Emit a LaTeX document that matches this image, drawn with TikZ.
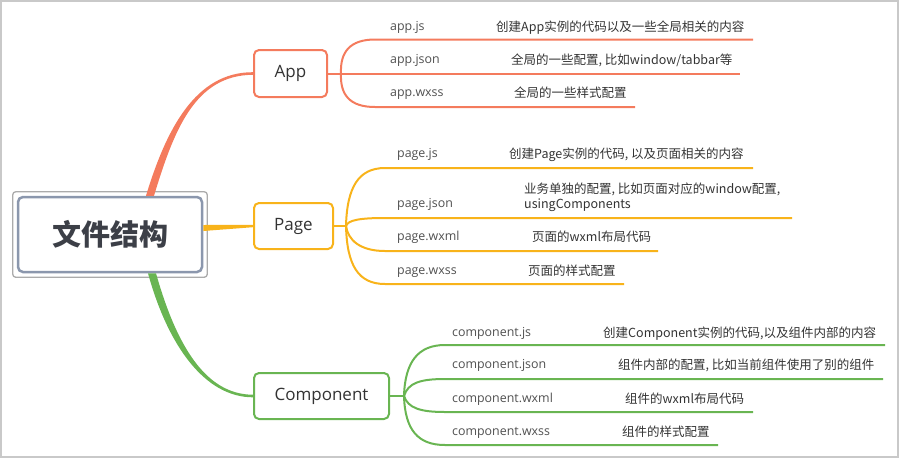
\documentclass[tikz,border=0pt]{standalone}
\usepackage{fontspec}
\setmainfont{Open Sans}
\newfontfamily\cjk{Noto Sans CJK SC}
\newfontfamily\lat{Open Sans}
\usetikzlibrary{calc}
\definecolor{appc}{HTML}{F47B5D}
\definecolor{pagec}{HTML}{F8B31A}
\definecolor{compc}{HTML}{69B552}
\definecolor{rootb}{HTML}{8B97AD}
\definecolor{rootouter}{HTML}{ABABAB}
\definecolor{framec}{HTML}{C9C9C9}
\definecolor{txt}{HTML}{333333}
\definecolor{lblc}{HTML}{505050}
\definecolor{roottxt}{HTML}{3C3F47}
\begin{document}
\begin{tikzpicture}[x=1pt,y=-1pt,
  box/.style={draw, line width=2pt, rounded corners=5pt, fill=white, inner sep=0pt,
    font=\lat\fontsize{17}{20}\selectfont, text=txt},
  lbl/.style={anchor=base west, inner sep=0pt, font=\lat\fontsize{12.4}{14}\selectfont, text=lblc},
  desc/.style={anchor=base west, inner sep=0pt, font=\cjk\fontsize{12.5}{15}\selectfont, text=txt},
  sub/.style={line width=2pt}
]
\useasboundingbox (0,0) rectangle (900,459);
\draw[framec, line width=1.5pt] (1,1) rectangle (898,457);

% root
\node[draw=rootb, line width=2.5pt, rounded corners=5pt, minimum width=184, minimum height=75,
  fill=white, inner sep=0pt, font=\cjk\bfseries\fontsize{29}{32}\selectfont, text=roottxt] (root) at (110,234.5) {文件结构};
\draw[rootouter, line width=1.3pt, rounded corners=3pt] ($(root.south west)+(-4,4)$) rectangle ($(root.north east)+(4,-4)$);

% main nodes
\node[box, draw=appc, minimum width=73, minimum height=47] (app) at (290.5,73.5) {App};
\node[box, draw=pagec, minimum width=79, minimum height=46] (page) at (293.5,226) {Page};
\node[box, draw=compc, minimum width=135, minimum height=46] (comp) at (321.5,396) {Component};

% thick tapered connectors
\fill[appc] ($(root.north)+(36,0)$) .. controls (166,130) and (195,72) .. ($(app.west)+(0,-1.3)$)
  -- ($(app.west)+(0,1.3)$) .. controls (195,75) and (174,130) .. ($(root.north)+(44,0)$) -- cycle;
\fill[pagec] ($(root.east)+(0,-9.5)$) .. controls (228,225.3) .. ($(page.west)+(0,-1.2)$)
  -- ($(page.west)+(0,1.2)$) .. controls (228,228.7) .. ($(root.east)+(0,-3.5)$) -- cycle;
\fill[compc] ($(root.south)+(38,0)$) .. controls (168,346) and (205,397.3) .. ($(comp.west)+(0,1.3)$)
  -- ($(comp.west)+(0,-1.3)$) .. controls (205,394.7) and (176,344) .. ($(root.south)+(46,0)$) -- cycle;

% App branches
\draw[appc, sub] (app.east) -- ++(13,0) coordinate (aj);
\draw[appc, sub] (aj) .. controls (340,52) and (350,39.5) .. (375,39.5) -- (753,39.5) coordinate (a1);
\draw[appc, sub] (aj) -- (740,73.5) coordinate (a2);
\draw[appc, sub] (aj) .. controls (340,95) and (350,107) .. (375,107) -- (635,107) coordinate (a3);
\node[lbl] (la1) at (390,30) {app.js};
\node[lbl] (la2) at (390,63.5) {app.json};
\node[lbl] (la3) at (390,96.5) {app.wxss};
\node[desc] (da1) at (496,31.5) {创建App实例的代码以及一些全局相关的内容};
\node[desc] (da2) at (511,64.5) {全局的一些配置, 比如window/tabbar等};
\node[desc] (da3) at (514,97.5) {全局的一些样式配置};

% Page branches
\draw[pagec, sub] (page.east) -- ++(12,0) coordinate (pj);
\draw[pagec, sub] (pj) .. controls (347,188) and (358,168) .. (385,168) -- (753,168) coordinate (p1);
\draw[pagec, sub] (pj) .. controls (348,220) and (360,218) .. (385,218) -- (792,218) coordinate (p2);
\draw[pagec, sub] (pj) .. controls (348,240) and (360,251) .. (385,251) -- (658,251) coordinate (p3);
\draw[pagec, sub] (pj) .. controls (347,265) and (358,284) .. (385,284) -- (624,284) coordinate (p4);
\node[lbl] (lp1) at (397,157) {page.js};
\node[lbl] (lp2) at (397,207) {page.json};
\node[lbl] (lp3) at (397,240) {page.wxml};
\node[lbl] (lp4) at (397,274) {page.wxss};
\node[desc] (dp1) at (509,158.5) {创建Page实例的代码, 以及页面相关的内容};
\node[desc] (dp2a) at (524,193.5) {业务单独的配置, 比如页面对应的window配置,};
\node[desc] (dp2b) at (524,208) {usingComponents};
\node[desc] (dp3) at (532,241.5) {页面的wxml布局代码};
\node[desc] (dp4) at (528,275.5) {页面的样式配置};

% Component branches
\draw[compc, sub] (comp.east) -- ++(14,0) coordinate (cj);
\draw[compc, sub] (cj) .. controls (405,362) and (418,345) .. (445,345) -- (885,345) coordinate (c1);
\draw[compc, sub] (cj) .. controls (408,383) and (420,379) .. (445,379) -- (883,379) coordinate (c2);
\draw[compc, sub] (cj) .. controls (408,408) and (420,412) .. (445,412) -- (753,412) coordinate (c3);
\draw[compc, sub] (cj) .. controls (405,430) and (418,445) .. (445,445) -- (718,445) coordinate (c4);
\node[lbl] (lc1) at (452,336) {component.js};
\node[lbl] (lc2) at (452,368) {component.json};
\node[lbl] (lc3) at (452,402) {component.wxml};
\node[lbl] (lc4) at (452,435) {component.wxss};
\node[desc] (dc1) at (603,337.5) {创建Component实例的代码,以及组件内部的内容};
\node[desc] (dc2) at (618,369.5) {组件内部的配置, 比如当前组件使用了别的组件};
\node[desc] (dc3) at (625,403.5) {组件的wxml布局代码};
\node[desc] (dc4) at (622,436.5) {组件的样式配置};
\end{tikzpicture}
\end{document}
